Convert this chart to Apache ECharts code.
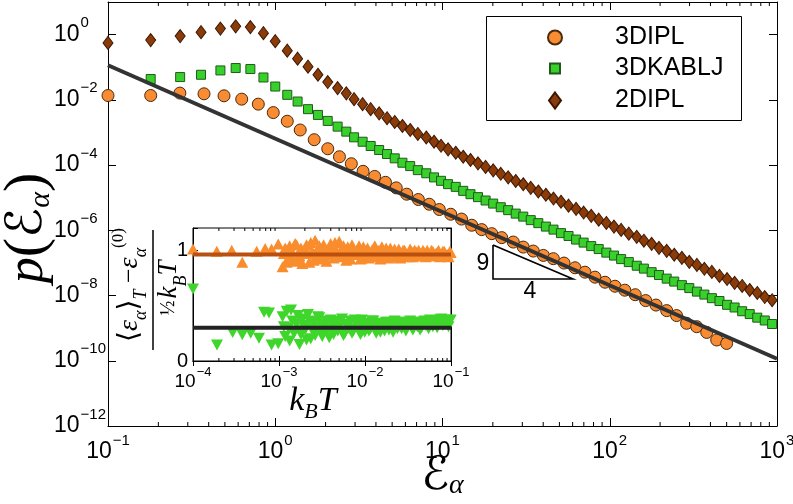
<!DOCTYPE html>
<html>
<head>
<meta charset="utf-8">
<script src="https://cdn.jsdelivr.net/npm/echarts@6/dist/echarts.min.js"></script>
<style>
  html, body { margin: 0; padding: 0; background: #fff; }
  #chart { width: 793px; height: 504px; }
</style>
</head>
<body>
<div id="chart"></div>
<script>
// main panel: energy distribution p(E) for three systems
const ipl3E = [0.1, 0.18, 0.269, 0.375, 0.494, 0.63, 0.792, 0.973, 1.18, 1.41, 1.71, 2.06, 2.42, 2.85, 3.35, 3.93, 4.56, 5.29, 6.11, 7.17, 8.34, 9.57, 11.2, 13.0, 14.95, 17.15, 19.7, 22.6, 26.5, 30.4, 34.9, 40.1, 46.0, 53.3, 62.0, 71.1, 81.6, 93.7, 107.5, 123, 142, 164, 189, 219, 251, 288, 331, 380, 436, 500];
const ipl3P = [0.01355, 0.0136, 0.0161, 0.0153, 0.0133, 0.0105, 0.00738, 0.00407, 0.00221, 0.00119, 0.0006, 0.000317, 0.00018, 0.00011, 6.44e-5, 4.49e-5, 2.96e-5, 2.0e-5, 1.28e-5, 8.8e-6, 6.3e-6, 4.34e-6, 3.11e-6, 2.21e-6, 1.43e-6, 1.05e-6, 7.9e-7, 5.96e-7, 4.36e-7, 3.06e-7, 2.31e-7, 1.7e-7, 1.35e-7, 9.9e-8, 7.1e-8, 5.2e-8, 3.66e-8, 2.56e-8, 1.93e-8, 1.46e-8, 1.06e-8, 7.0e-9, 5.1e-9, 3.45e-9, 2.43e-9, 1.41e-9, 1.11e-9, 7.4e-10, 4.34e-10, 3.4e-10];

const kablj3E = [0.18, 0.27, 0.36, 0.47, 0.58, 0.71, 0.85, 1.0, 1.18, 1.36, 1.57, 1.80, 2.06, 2.36, 2.66, 2.96, 3.33, 3.72, 4.18, 4.66, 5.18, 5.76, 6.41, 7.12, 8.0, 8.9, 9.8, 10.8, 12.0, 13.3, 14.7, 16.3, 18.1, 20.1, 22.3, 24.7, 27.4, 30.4, 33.7, 37.4, 41.5, 46.1, 51.1, 56.7, 62.9, 69.8, 77.5, 85.9, 95.4, 106, 117, 130, 145, 160, 178, 197, 219, 243, 270, 299, 332, 368, 408, 453, 503, 558, 619, 687, 762, 845, 935];
const kablj3P = [0.0434, 0.0499, 0.0588, 0.0798, 0.0945, 0.088, 0.0485, 0.0256, 0.01426, 0.00887, 0.00518, 0.00345, 0.00226, 0.00151, 0.00106, 0.00071, 0.00052, 0.000385, 0.00029, 0.000218, 0.000161, 0.000118, 9.3e-5, 7.0e-5, 5.6e-5, 4.19e-5, 3.29e-5, 2.6e-5, 2.15e-5, 1.62e-5, 1.28e-5, 1.04e-5, 8.2e-6, 6.6e-6, 5.1e-6, 4.15e-6, 3.25e-6, 2.63e-6, 2.05e-6, 1.66e-6, 1.3e-6, 1.05e-6, 8.2e-7, 6.7e-7, 5.2e-7, 4.2e-7, 3.28e-7, 2.66e-7, 2.07e-7, 1.68e-7, 1.31e-7, 1.06e-7, 8.2e-8, 6.7e-8, 5.2e-8, 4.25e-8, 3.3e-8, 2.68e-8, 2.08e-8, 1.69e-8, 1.32e-8, 1.07e-8, 8.3e-9, 6.8e-9, 5.2e-9, 4.3e-9, 3.3e-9, 2.7e-9, 2.1e-9, 1.72e-9, 1.34e-9];

const ipl2E = [0.1, 0.18, 0.27, 0.36, 0.47, 0.58, 0.71, 0.85, 1.0, 1.18, 1.36, 1.57, 1.80, 2.06, 2.36, 2.66, 2.96, 3.33, 3.72, 4.18, 4.66, 5.18, 5.76, 6.41, 7.12, 8.0, 8.9, 9.8, 10.8, 12.0, 13.3, 14.7, 16.3, 18.1, 20.1, 22.3, 24.7, 27.4, 30.4, 33.7, 37.4, 41.5, 46.1, 51.1, 56.7, 62.9, 69.8, 77.5, 85.9, 95.4, 106, 117, 130, 145, 160, 178, 197, 219, 243, 270, 299, 332, 368, 408, 453, 503, 558, 619, 687, 762, 845, 935];
const ipl2P = [0.556, 0.68, 0.90, 1.19, 1.53, 1.79, 1.70, 1.11, 0.63, 0.322, 0.183, 0.104, 0.0589, 0.0351, 0.0229, 0.0158, 0.0105, 0.00738, 0.00518, 0.00385, 0.00274, 0.0021, 0.00158, 0.00119, 0.0009, 0.0007, 0.00052, 0.00039, 0.000304, 0.000239, 0.00018, 0.000143, 0.000113, 8.8e-5, 6.9e-5, 5.4e-5, 4.2e-5, 3.25e-5, 2.58e-5, 2.0e-5, 1.55e-5, 1.23e-5, 9.4e-6, 7.5e-6, 5.7e-6, 4.55e-6, 3.5e-6, 2.78e-6, 2.12e-6, 1.68e-6, 1.3e-6, 1.03e-6, 7.9e-7, 6.3e-7, 4.8e-7, 3.85e-7, 2.9e-7, 2.35e-7, 1.78e-7, 1.43e-7, 1.08e-7, 8.7e-8, 6.6e-8, 5.3e-8, 4.0e-8, 3.2e-8, 2.45e-8, 1.97e-8, 1.48e-8, 1.2e-8, 9.0e-9, 7.2e-9];

// guide line with slope -9/4
const guideE = [0.1, 1000];
const guideP = [0.115, 1.15e-10];

// inset: normalised mean energy vs k_B T
const upSparseT = [1.0e-4, 1.89e-4, 2.82e-4, 3.74e-4, 5.5e-4, 6.9e-4, 8.2e-4, 9.8e-4];
const upSparseY = [1.01, 0.99, 1.0, 0.89, 0.99, 1.015, 1.01, 1.055];
const downSparseT = [1.0e-4, 1.9e-4, 2.89e-4, 3.74e-4, 4.69e-4, 5.85e-4, 6.7e-4, 7.65e-4, 8.2e-4, 9.8e-4];
const downSparseY = [0.65, 0.145, 0.257, 0.236, 0.25, 0.206, 0.44, 0.433, 0.145, 0.155];
const denseT = [1.10e-3, 1.18e-3, 1.28e-3, 1.38e-3, 1.49e-3, 1.60e-3, 1.73e-3, 1.87e-3, 2.01e-3, 2.17e-3, 2.34e-3, 2.53e-3, 2.73e-3, 2.94e-3, 3.18e-3, 3.43e-3, 3.70e-3, 3.99e-3, 4.31e-3, 4.65e-3, 5.01e-3, 5.41e-3, 5.83e-3, 6.30e-3, 6.79e-3, 7.33e-3, 7.91e-3, 8.53e-3, 9.20e-3, 9.93e-3, 1.07e-2, 1.16e-2, 1.25e-2, 1.35e-2, 1.45e-2, 1.57e-2, 1.69e-2, 1.82e-2, 1.97e-2, 2.12e-2, 2.29e-2, 2.47e-2, 2.67e-2, 2.88e-2, 3.10e-2, 3.35e-2, 3.61e-2, 3.90e-2, 4.21e-2, 4.54e-2, 4.90e-2, 5.28e-2, 5.70e-2, 6.15e-2, 6.64e-2, 7.16e-2, 7.73e-2, 8.34e-2, 9.0e-2, 9.7e-2];
const upDenseY = [0.85, 1.02, 0.93, 1.00, 0.90, 1.05, 0.95, 0.88, 1.01, 0.97, 1.07, 0.91, 0.99, 1.04, 0.92, 1.01, 0.96, 1.06, 0.93, 1.00, 1.08, 0.94, 0.98, 1.03, 0.92, 1.00, 0.97, 1.04, 0.93, 0.99, 1.02, 0.95, 1.01, 0.94, 1.00, 1.03, 0.95, 0.99, 1.02, 0.94, 0.98, 1.01, 0.95, 1.00, 0.96, 1.01, 0.94, 0.99, 1.00, 0.95, 0.98, 1.00, 0.95, 0.99, 0.97, 1.00, 0.95, 0.99, 0.96, 0.99];
const downDenseY = [0.40, 0.22, 0.30, 0.46, 0.25, 0.33, 0.15, 0.38, 0.28, 0.42, 0.20, 0.35, 0.27, 0.39, 0.22, 0.33, 0.29, 0.37, 0.24, 0.35, 0.30, 0.38, 0.25, 0.33, 0.36, 0.27, 0.34, 0.30, 0.37, 0.26, 0.33, 0.29, 0.36, 0.25, 0.32, 0.34, 0.27, 0.35, 0.30, 0.26, 0.33, 0.35, 0.29, 0.34, 0.31, 0.36, 0.28, 0.34, 0.35, 0.30, 0.36, 0.33, 0.37, 0.31, 0.36, 0.34, 0.38, 0.33, 0.37, 0.36];
const denseT2 = [1.14e-3, 1.23e-3, 1.33e-3, 1.43e-3, 1.54e-3, 1.66e-3, 1.80e-3, 1.94e-3, 2.09e-3, 2.25e-3, 2.43e-3, 2.63e-3, 2.83e-3, 3.06e-3, 3.30e-3, 3.56e-3, 3.84e-3, 4.15e-3, 4.48e-3, 4.83e-3, 5.21e-3, 5.62e-3, 6.06e-3, 6.54e-3, 7.06e-3, 7.62e-3, 8.22e-3, 8.86e-3, 9.56e-3, 1.03e-2, 1.11e-2, 1.20e-2, 1.30e-2, 1.40e-2, 1.51e-2, 1.63e-2, 1.76e-2, 1.90e-2, 2.04e-2, 2.21e-2, 2.38e-2, 2.57e-2, 2.77e-2, 2.99e-2, 3.23e-2, 3.48e-2, 3.76e-2, 4.05e-2, 4.37e-2, 4.72e-2, 5.09e-2, 5.49e-2, 5.92e-2, 6.39e-2, 6.90e-2, 7.44e-2, 8.03e-2, 8.66e-2, 9.35e-2, 9.9e-2];
const upDense2Y = [0.97, 0.89, 1.04, 0.95, 1.06, 0.91, 1.02, 0.97, 1.05, 0.89, 0.99, 1.09, 0.94, 1.00, 1.05, 0.90, 0.98, 1.02, 1.07, 0.95, 0.97, 1.04, 0.91, 0.99, 1.05, 0.96, 1.01, 0.92, 1.03, 0.96, 0.93, 1.00, 1.04, 0.97, 0.92, 0.99, 1.02, 0.93, 0.97, 1.01, 0.96, 0.93, 1.00, 0.97, 0.94, 0.99, 1.00, 0.95, 0.97, 1.00, 0.94, 0.97, 1.00, 0.95, 0.98, 0.94, 0.99, 0.96, 0.94, 0.98];
const downDense2Y = [0.31, 0.45, 0.18, 0.36, 0.27, 0.41, 0.24, 0.32, 0.19, 0.36, 0.29, 0.23, 0.40, 0.31, 0.26, 0.36, 0.21, 0.34, 0.30, 0.27, 0.36, 0.23, 0.33, 0.29, 0.25, 0.37, 0.31, 0.24, 0.34, 0.32, 0.27, 0.36, 0.30, 0.33, 0.26, 0.30, 0.35, 0.28, 0.33, 0.36, 0.29, 0.31, 0.35, 0.27, 0.33, 0.30, 0.35, 0.31, 0.28, 0.34, 0.32, 0.29, 0.35, 0.33, 0.30, 0.37, 0.32, 0.35, 0.31, 0.37];
const upLevel = 0.96;
const downLevel = 0.3;
const insetT = [1e-4, 1e-1];

const FONT = '"Liberation Sans", Arial, sans-serif';
const SERIF = '"Liberation Serif", "DejaVu Serif", serif';
const SCRIPT = '"DejaVu Sans", "Noto Sans", sans-serif';

function zip(a, b) { return a.map(function (v, i) { return [v, b[i]]; }); }

function pow10Label(v) {
  const e = Math.round(Math.log10(v));
  return '{b|10}{s|' + (e < 0 ? '\u2212' + (-e) : e) + '}';
}

// minor ticks at 2..9 x 10^d, placed through the axis scale
function minorValues(d0, d1, y) {
  const out = [];
  for (let d = d0; d < d1; d++) {
    for (let k = 2; k <= 9; k++) out.push([k * Math.pow(10, d), y]);
  }
  return out;
}
function minorTicks(yLo, yHi, len) {
  return function (params, api) {
    const v = api.value(0);
    const b = api.coord([v, yLo]);
    const t = api.coord([v, yHi]);
    return {
      type: 'group',
      children: [
        { type: 'line', shape: { x1: b[0], y1: b[1], x2: b[0], y2: b[1] - len }, style: { stroke: '#000', lineWidth: 1 } },
        { type: 'line', shape: { x1: t[0], y1: t[1], x2: t[0], y2: t[1] + len }, style: { stroke: '#000', lineWidth: 1 } }
      ]
    };
  };
}

const mainRich = {
  b: { fontSize: 23, height: 24, verticalAlign: 'bottom', fontFamily: FONT, color: '#000' },
  s: { fontSize: 15, height: 15, verticalAlign: 'top', padding: [0, 0, 16, 1], fontFamily: FONT, color: '#000' }
};
const insetRich = {
  b: { fontSize: 19, height: 20, verticalAlign: 'bottom', fontFamily: FONT, color: '#000' },
  s: { fontSize: 13, height: 13, verticalAlign: 'top', padding: [0, 0, 13, 1], fontFamily: FONT, color: '#000' }
};

const axisLine = { show: true, lineStyle: { color: '#000', width: 1 } };

function legendFor(name, icon, w, h, left, top, pad) {
  return {
    data: [{ name: name, icon: icon }],
    left: left, top: top, padding: 0,
    itemWidth: w, itemHeight: h,
    selectedMode: false,
    formatter: '{t|{name}}',
    textStyle: { rich: { t: { fontSize: 25, height: 24, fontFamily: FONT, color: '#000', padding: [0, 0, 0, pad] } } }
  };
}

const chart = echarts.init(document.getElementById('chart'));
chart.setOption({
  animation: false,
  backgroundColor: '#fff',
  grid: [
    { left: 108, right: 16, top: 2, bottom: 78, outerBoundsMode: 'none' },
    { left: 193, top: 228, width: 258, height: 133, show: true, backgroundColor: '#fff', borderColor: '#000', borderWidth: 1, z: 10, outerBoundsMode: 'none' }
  ],
  legend: [
    legendFor('3DIPL', 'circle', 14, 14, 547, 25, 48),
    legendFor('3DKABLJ', 'rect', 10, 10, 549, 56, 50),
    legendFor('2DIPL', 'diamond', 12, 16, 548, 88, 49)
  ],
  xAxis: [
    {
      gridIndex: 0, type: 'log', min: 0.1, max: 1000, position: 'bottom',
      axisLine: axisLine,
      axisTick: { inside: true, length: 8, lineStyle: { color: '#000' } },
      axisLabel: { formatter: pow10Label, rich: mainRich, margin: 7, hideOverlap: false },
      splitLine: { show: false },
      name: '{e|\u2130}{s|\u03b1}', nameLocation: 'middle', nameGap: 28, nameMoveOverlap: false,
      nameTextStyle: { rich: {
        e: { fontSize: 46, height: 46, fontFamily: SCRIPT, color: '#000' },
        s: { fontSize: 28, height: 28, fontFamily: SERIF, fontStyle: 'italic', verticalAlign: 'bottom', color: '#000' }
      } }
    },
    {
      gridIndex: 0, type: 'log', min: 0.1, max: 1000, position: 'top',
      axisLine: axisLine,
      axisTick: { inside: true, length: 8, lineStyle: { color: '#000' } },
      axisLabel: { show: false }, splitLine: { show: false }
    },
    {
      gridIndex: 1, type: 'log', min: insetT[0], max: insetT[1], position: 'bottom', z: 11,
      axisLine: axisLine,
      axisTick: { inside: true, length: 5, lineStyle: { color: '#000' } },
      axisLabel: { formatter: pow10Label, rich: insetRich, margin: 5, hideOverlap: false },
      splitLine: { show: false },
      name: '{i|k}{s|B}{i|T}', nameLocation: 'middle', nameGap: 24, nameMoveOverlap: false,
      nameTextStyle: { padding: [0, 18, 0, 0], rich: {
        i: { fontSize: 34, height: 32, padding: [0, 0, 6, 0], verticalAlign: 'top', fontFamily: SERIF, fontStyle: 'italic', color: '#000' },
        s: { fontSize: 22, height: 21, verticalAlign: 'bottom', fontFamily: SERIF, fontStyle: 'italic', color: '#000' }
      } }
    },
    {
      gridIndex: 1, type: 'log', min: insetT[0], max: insetT[1], position: 'top', z: 11,
      axisLine: axisLine,
      axisTick: { inside: true, length: 5, lineStyle: { color: '#000' } },
      axisLabel: { show: false }, splitLine: { show: false }
    }
  ],
  yAxis: [
    {
      gridIndex: 0, type: 'log', min: 1e-12, max: 10, interval: 2, position: 'left',
      axisLine: axisLine,
      axisTick: { inside: true, length: 8, lineStyle: { color: '#000' } },
      axisLabel: {
        formatter: function (v) { return v > 2 ? '' : pow10Label(v); },
        rich: mainRich, align: 'left', margin: 54, padding: [0, 0, 7, 0], hideOverlap: false
      },
      splitLine: { show: false },
      name: '{p|p}{b|(}{e|\u2130}{s|\u03b1}{b|)}', nameLocation: 'middle', nameRotate: 90, nameGap: 52, nameMoveOverlap: false,
      nameTextStyle: { padding: [0, 28, 0, 0], rich: {
        p: { fontSize: 52, height: 50, fontFamily: SERIF, fontStyle: 'italic', color: '#000' },
        b: { fontSize: 58, height: 56, fontFamily: SERIF, color: '#000' },
        e: { fontSize: 50, height: 50, fontFamily: SCRIPT, color: '#000' },
        s: { fontSize: 30, height: 30, fontFamily: SERIF, fontStyle: 'italic', verticalAlign: 'bottom', color: '#000' }
      } }
    },
    {
      gridIndex: 0, type: 'log', min: 1e-12, max: 10, interval: 2, position: 'right',
      axisLine: axisLine,
      axisTick: { inside: true, length: 8, lineStyle: { color: '#000' } },
      axisLabel: { show: false }, splitLine: { show: false }
    },
    {
      gridIndex: 1, type: 'value', min: 0, max: 1.2, interval: 1, position: 'left', z: 11,
      axisLine: axisLine,
      axisTick: { inside: true, length: 5, lineStyle: { color: '#000' } },
      axisLabel: {
        formatter: function (v) { return v === 0 || v === 1 ? String(v) : ''; },
        fontSize: 20, fontFamily: FONT, color: '#000', margin: 5
      },
      splitLine: { show: false }
    },
    {
      gridIndex: 1, type: 'value', min: 0, max: 1.2, interval: 1, position: 'right', z: 11,
      axisLine: axisLine,
      axisTick: { inside: true, length: 5, lineStyle: { color: '#000' } },
      axisLabel: { show: false }, splitLine: { show: false }
    }
  ],
  series: [
    {
      name: '3DIPL', type: 'scatter', xAxisIndex: 0, yAxisIndex: 0, z: 3, clip: false, silent: true,
      symbol: 'circle', symbolSize: 12,
      itemStyle: { color: '#f98c33', borderColor: '#4a2a0c', borderWidth: 1, opacity: 1 },
      data: zip(ipl3E, ipl3P)
    },
    {
      name: '3DKABLJ', type: 'scatter', xAxisIndex: 0, yAxisIndex: 0, z: 3, clip: false, silent: true,
      symbol: 'rect', symbolSize: 9,
      itemStyle: { color: '#38d12b', borderColor: '#1f5a18', borderWidth: 1, opacity: 1 },
      data: zip(kablj3E, kablj3P)
    },
    {
      name: '2DIPL', type: 'scatter', xAxisIndex: 0, yAxisIndex: 0, z: 3, clip: false, silent: true,
      symbol: 'diamond', symbolSize: [10, 13],
      itemStyle: { color: '#8b3b08', borderColor: '#3b1702', borderWidth: 1, opacity: 1 },
      data: zip(ipl2E, ipl2P)
    },
    {
      name: 'slope', type: 'line', xAxisIndex: 0, yAxisIndex: 0, z: 4, silent: true,
      symbol: 'none', lineStyle: { color: '#333', width: 4 },
      data: zip(guideE, guideP)
    },
    {
      type: 'custom', xAxisIndex: 0, yAxisIndex: 0, z: 5, silent: true, clip: false,
      renderItem: minorTicks(1e-12, 10, 4),
      data: minorValues(-1, 3, 1e-6)
    },
    {
      name: 'up', type: 'scatter', xAxisIndex: 2, yAxisIndex: 2, z: 12, clip: false, silent: true,
      symbol: 'triangle', symbolSize: [12, 11],
      itemStyle: { color: '#f98c2c', opacity: 1 },
      data: zip(upSparseT.concat(denseT, denseT2), upSparseY.concat(upDenseY, upDense2Y))
    },
    {
      name: 'down', type: 'scatter', xAxisIndex: 2, yAxisIndex: 2, z: 12, clip: false, silent: true,
      symbol: 'triangle', symbolRotate: 180, symbolSize: [12, 11],
      itemStyle: { color: '#3ed62a', opacity: 1 },
      data: zip(downSparseT.concat(denseT, denseT2), downSparseY.concat(downDenseY, downDense2Y))
    },
    {
      type: 'line', xAxisIndex: 2, yAxisIndex: 2, z: 13, silent: true, symbol: 'none',
      lineStyle: { color: '#b9500f', width: 4 },
      data: zip(insetT, [upLevel, upLevel])
    },
    {
      type: 'line', xAxisIndex: 2, yAxisIndex: 2, z: 13, silent: true, symbol: 'none',
      lineStyle: { color: '#222', width: 4 },
      data: zip(insetT, [downLevel, downLevel])
    },
    {
      type: 'custom', xAxisIndex: 2, yAxisIndex: 2, z: 14, silent: true, clip: false,
      renderItem: minorTicks(0, 1.2, 3),
      data: minorValues(-4, -1, 0.5)
    }
  ],
  graphic: [
    { type: 'rect', z: 20, shape: { x: 486.5, y: 16.5, width: 255, height: 104 }, style: { fill: 'none', stroke: '#000', lineWidth: 1 } },
    { type: 'polyline', z: 20, shape: { points: [[493, 245], [493, 279], [573, 279], [493, 245]] }, style: { fill: 'none', stroke: '#000', lineWidth: 1.6 } },
    { type: 'text', z: 20, x: 483, y: 264, style: { text: '9', fontSize: 23, fontFamily: FONT, fill: '#000', align: 'center', verticalAlign: 'middle' } },
    { type: 'text', z: 20, x: 530, y: 292, style: { text: '4', fontSize: 23, fontFamily: FONT, fill: '#000', align: 'center', verticalAlign: 'middle' } },
    {
      type: 'group', x: 153, y: 290, rotation: Math.PI / 2, z: 20,
      children: [
        { type: 'line', shape: { x1: -60, y1: 0, x2: 60, y2: 0 }, style: { stroke: '#000', lineWidth: 1.5 } },
        {
          type: 'text', x: 5, y: -3,
          style: {
            text: '{a|\u27e8}{e|\u03b5}{s|\u03b1}{a|\u27e9}{s|T}{m| \u2212}{e|\u03b5}{s|\u03b1}{p|(0)}',
            align: 'center', verticalAlign: 'bottom',
            rich: {
              a: { fontSize: 28, height: 28, padding: [6, 0, 6, 0], fontFamily: SCRIPT, fill: '#000' },
              e: { fontSize: 28, height: 28, padding: [6, 0, 6, 0], fontFamily: SERIF, fontStyle: 'italic', fill: '#000' },
              m: { fontSize: 26, height: 28, padding: [6, 0, 6, 0], fontFamily: SERIF, fill: '#000' },
              s: { fontSize: 18, height: 18, verticalAlign: 'bottom', fontFamily: SERIF, fontStyle: 'italic', fill: '#000' },
              p: { fontSize: 17, height: 17, verticalAlign: 'top', fontFamily: SERIF, fill: '#000' }
            }
          }
        },
        {
          type: 'text', x: 2, y: 3,
          style: {
            text: '{f|\u00bd}{k|k}{s|B}{k|T}',
            align: 'center', verticalAlign: 'top',
            rich: {
              f: { fontSize: 20, height: 26, padding: [0, 2, 8, 0], verticalAlign: 'top', fontFamily: SERIF, fill: '#000' },
              k: { fontSize: 27, height: 26, padding: [0, 0, 8, 0], verticalAlign: 'top', fontFamily: SERIF, fontStyle: 'italic', fill: '#000' },
              s: { fontSize: 18, height: 17, verticalAlign: 'bottom', fontFamily: SERIF, fontStyle: 'italic', fill: '#000' }
            }
          }
        }
      ]
    }
  ]
});
</script>
</body>
</html>
